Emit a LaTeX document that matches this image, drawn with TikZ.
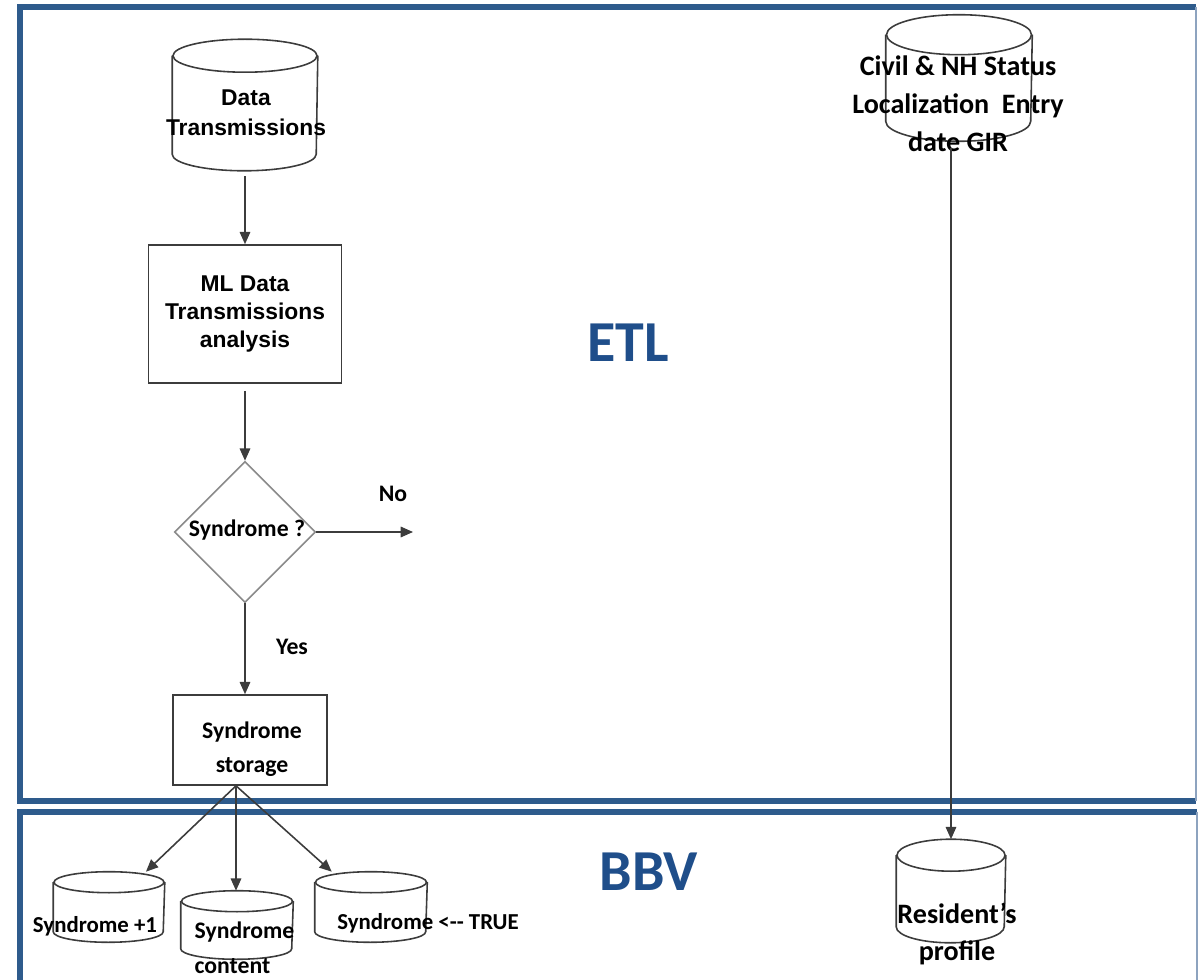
\documentclass[tikz,border=0pt]{standalone}
\usepackage{fontspec}
\newfontfamily\arialf{Liberation Sans}
\newfontfamily\calib{Carlito}
\usetikzlibrary{positioning}
\usetikzlibrary{calc}
\usetikzlibrary{shapes.geometric}
\usetikzlibrary{arrows.meta}
\definecolor{frameblue}{HTML}{2E5B8C}
\definecolor{frameedge}{HTML}{8DA3BF}
\definecolor{labblue}{HTML}{1F4E8A}
\definecolor{inkgray}{HTML}{3C3C3C}
\definecolor{diagray}{HTML}{8A8A8A}
\newcommand\pxu{0.02cm}
% cylinder store: name, x, y, width, height, ellipse half height
\newcommand\dbcyl[6]{%
	\node[inner sep=0pt,minimum width=#4*\pxu,minimum height=#5*\pxu] (#1) at (#2,#3) {};
	\draw[inkgray] (#1.north) ++(0,#6) ellipse [x radius=#4/2*\pxu,y radius=#6*\pxu];
	\draw[inkgray] ($(#1.north west)+(0,#6)$) -- ($(#1.south west)+(0,-#6)$)
		arc[start angle=180,end angle=360,x radius=#4/2*\pxu,y radius=#6*\pxu]
		-- ($(#1.north east)+(0,#6)$);
}

\begin{document}
\begin{tikzpicture}[x=\pxu,y=-\pxu,>={Triangle[length=7pt,width=6pt]},
					line width=0.9pt]
					\tikzstyle{proc}=[draw=inkgray,rectangle,inner sep=0pt]
					\tikzstyle{arf}=[font=\arialf\bfseries\fontsize{13}{16}\selectfont,align=center]
					\tikzstyle{caf}=[font=\calib\bfseries\fontsize{13.5}{18}\selectfont,align=center]
					\tikzstyle{cabig}=[font=\calib\bfseries\fontsize{16}{21.5}\selectfont,align=center]
					\tikzstyle{zone}=[font=\calib\bfseries\fontsize{33}{36}\selectfont,text=labblue]
					\tikzstyle{flow}=[->,draw=inkgray]
					
					\useasboundingbox (0,0) rectangle (1198,980);
					
					% frames
					\draw[frameblue,line width=3pt] (1196,7) -- (20,7) -- (20,801) -- (1196,801);
					\draw[frameedge,line width=1.2pt] (1196,7) -- (1196,801);
					\draw[frameblue,line width=3pt] (1197,812) -- (20,812) -- (20,990);
					\draw[frameedge,line width=1.2pt] (1197,812) -- (1197,990);
					\node[zone] (etl) at (628,343) {ETL};
					\node[zone] (bbv) at (649,872) {BBV};
					
					% ETL flow
					\dbcyl{dt}{245}{105}{144}{130}{16.5}
					\node[arf,font=\arialf\bfseries\fontsize{13}{17}\selectfont] (dt-t) at (246,113) {Data\\Transmissions};
					\node[proc,arf,minimum width=193*\pxu,minimum height=138*\pxu] (ml) at (245,314) {ML Data\\Transmissions\\analysis};
					\node[draw=diagray,diamond,aspect=1,inner sep=0pt,minimum width=141*\pxu,minimum height=141*\pxu] (syn) at (245,532) {};
					\node[caf] (syn-t) at (247,530) {Syndrome ?};
					\coordinate (noend) at (413,532);
					\node[caf] (no) at (393,494) {No};
					\node[caf] (yes) at (292,647) {Yes};
					\node[proc,minimum width=154*\pxu,minimum height=90*\pxu] (store) at (250,740) {};
					\node[caf,font=\calib\bfseries\fontsize{13.5}{19}\selectfont] (store-t) at (252,749) {Syndrome\\storage};
					
					\dbcyl{civ}{959}{78}{145}{125}{20}
					\node[cabig] (civ-t) at (958,104) {Civil \& NH Status\\Localization~ Entry\\date GIR};
					
					% BBV stores
					\dbcyl{s1}{109}{907}{110}{69}{10.5}
					\node[caf,font=\calib\bfseries\fontsize{13}{18}\selectfont] (s1-t) at (95,926) {Syndrome +1};
					\dbcyl{sc}{237}{925}{111}{67}{10.5}
					\node[caf,align=left,anchor=west,font=\calib\bfseries\fontsize{13.5}{20}\selectfont] (sc-t) at (188,948) {Syndrome\\content};
					\dbcyl{st}{371}{907}{111}{69}{10.5}
					\node[caf,font=\calib\bfseries\fontsize{13}{18}\selectfont] (st-t) at (428,923) {Syndrome <-{}- TRUE};
					\dbcyl{rp}{951}{891}{108}{102}{16}
					\node[cabig] (rp-t) at (957,934) {Resident’s\\profile};
					
					\coordinate (fork) at ($(store.south)+(-14,0)$);
					
					\draw[flow,shorten <=3pt] (dt.south) -- (dt.south |- ml.north);
					\draw[flow,shorten <=4pt] (ml.south) -- (syn.north);
					\draw[flow] (syn.east) -- (noend);
					\draw[flow] (syn.south) -- (syn.south |- store.north);
					\draw[flow] (fork) -- (s1);
					\draw[flow] (fork) -- (fork |- sc.north);
					\draw[flow] (fork) -- (st);
					\draw[flow,shorten <=4pt] (rp.north |- civ.south) -- (rp.north);
\end{tikzpicture}
\end{document}
